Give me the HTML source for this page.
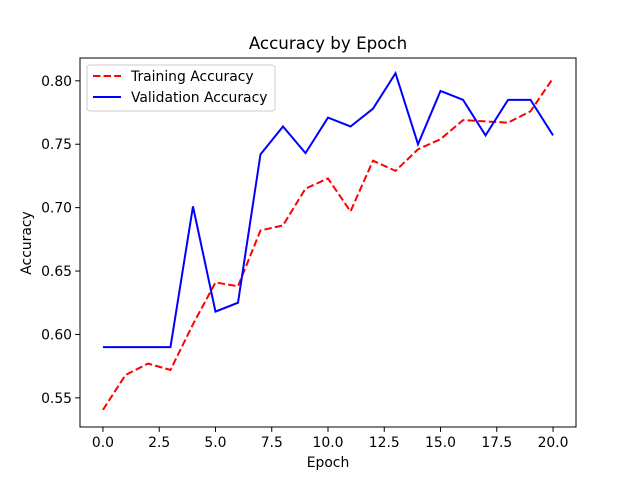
<!DOCTYPE html>
<html><head><meta charset="utf-8"><style>
body{margin:0;background:#fff}
svg{font-family:"DejaVu Sans","Liberation Sans",sans-serif}
</style></head><body>
<svg id="c" width="640" height="480" xmlns="http://www.w3.org/2000/svg"></svg>
<script>
const epochs=[0,1,2,3,4,5,6,7,8,9,10,11,12,13,14,15,16,17,18,19,20];
const trainAcc=[0.5405,0.568,0.577,0.572,0.608,0.641,0.638,0.682,0.686,0.715,0.723,0.697,0.737,0.729,0.746,0.754,0.769,0.768,0.767,0.776,0.802];
const valAcc=[0.590,0.590,0.590,0.590,0.701,0.618,0.625,0.742,0.764,0.743,0.771,0.764,0.778,0.806,0.750,0.792,0.785,0.757,0.785,0.785,0.757];
const xTicks=[0,2.5,5,7.5,10,12.5,15,17.5,20];
const xTickLabels=["0.0","2.5","5.0","7.5","10.0","12.5","15.0","17.5","20.0"];
const yTicks=[0.55,0.60,0.65,0.70,0.75,0.80];
const yTickLabels=["0.55","0.60","0.65","0.70","0.75","0.80"];
const L=80,R=576,T=58,B=427;
const xMin=-1.02,xMax=21.02,yMin=0.527,yMax=0.818;
const sx=v=>L+(v-xMin)/(xMax-xMin)*(R-L);
const sy=v=>B-(v-yMin)/(yMax-yMin)*(B-T);
const svg=document.getElementById('c');
const NS='http://www.w3.org/2000/svg';
function mk(tag,attrs,text){const e=document.createElementNS(NS,tag);for(const k in attrs)e.setAttribute(k,attrs[k]);if(text!==undefined)e.textContent=text;svg.appendChild(e);return e;}
let e;
e=mk('rect',{x:L,y:T,width:R-L,height:B-T,fill:'#fff',stroke:'#000','stroke-width':1});


xTicks.forEach((t,i)=>{
 e=mk('line',{x1:sx(t),x2:sx(t),y1:B,y2:B+4.9,stroke:'#000'});
 
 
 e=mk('text',{x:sx(t),y:B+20,'font-size':13.9,'text-anchor':'middle'},xTickLabels[i]);
 
 
});
yTicks.forEach((t,i)=>{
 e=mk('line',{x1:L-4.9,x2:L,y1:sy(t),y2:sy(t),stroke:'#000'});
 
 
 e=mk('text',{x:L-8,y:sy(t)+5,'font-size':13.9,'text-anchor':'end'},yTickLabels[i]);
 
 
});
function pts(arr){return epochs.map((x,i)=>sx(x)+','+sy(arr[i])).join(' ');}
e=mk('polyline',{points:pts(trainAcc),fill:'none',stroke:'#ff0000','stroke-width':2,'stroke-dasharray':'7.4,3.2'});


e=mk('polyline',{points:pts(valAcc),fill:'none',stroke:'#0000ff','stroke-width':2});


e=mk('text',{x:328,y:49,'font-size':16.7,'text-anchor':'middle'},'Accuracy by Epoch');


e=mk('text',{x:328,y:467,'font-size':13.9,'text-anchor':'middle'},'Epoch');


e=mk('text',{x:31,y:243,'font-size':13.9,'text-anchor':'middle',transform:'rotate(-90 31 243)'},'Accuracy');


e=mk('rect',{x:87,y:65,width:188,height:46,rx:3,fill:'#fff',stroke:'#ccc'});


e=mk('line',{x1:93,x2:121,y1:76,y2:76,stroke:'#ff0000','stroke-width':2,'stroke-dasharray':'7.4,3.2'});


e=mk('text',{x:131,y:81,'font-size':13.9},'Training Accuracy');


e=mk('line',{x1:93,x2:121,y1:97,y2:97,stroke:'#0000ff','stroke-width':2});


e=mk('text',{x:131,y:102,'font-size':13.9},'Validation Accuracy');


</script>
</body></html>
